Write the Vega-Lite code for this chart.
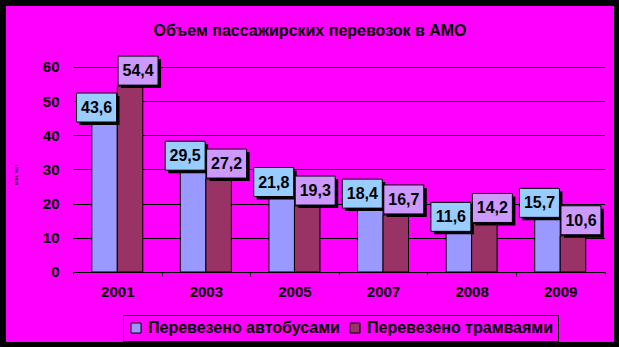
{
  "$schema": "https://vega.github.io/schema/vega-lite/v6.json",
  "width": 608,
  "height": 336,
  "autosize": {"type": "none"},
  "padding": {"left": 6, "top": 6, "right": 5, "bottom": 5},
  "background": "#000000",
  "config": {
    "locale": {"number": {"decimal": ",", "thousands": " ", "grouping": [3], "currency": ["", ""]}},
    "view": {"fill": "#FF00FF", "stroke": null},
    "font": "Liberation Sans"
  },
  "title": {
    "text": "Объем пассажирских перевозок в АМО",
    "fontSize": 16,
    "fontWeight": "bold",
    "color": "#000000",
    "anchor": "middle",
    "frame": "group",
    "offset": -46,
    "baseline": "alphabetic"
  },
  "data": {
    "values": [
      {"year": "2001", "series": "Перевезено автобусами", "value": 43.6},
      {"year": "2001", "series": "Перевезено трамваями", "value": 54.4},
      {"year": "2003", "series": "Перевезено автобусами", "value": 29.5},
      {"year": "2003", "series": "Перевезено трамваями", "value": 27.2},
      {"year": "2005", "series": "Перевезено автобусами", "value": 21.8},
      {"year": "2005", "series": "Перевезено трамваями", "value": 19.3},
      {"year": "2007", "series": "Перевезено автобусами", "value": 18.4},
      {"year": "2007", "series": "Перевезено трамваями", "value": 16.7},
      {"year": "2008", "series": "Перевезено автобусами", "value": 11.6},
      {"year": "2008", "series": "Перевезено трамваями", "value": 14.2},
      {"year": "2009", "series": "Перевезено автобусами", "value": 15.7},
      {"year": "2009", "series": "Перевезено трамваями", "value": 10.6}
    ]
  },
  "encoding": {
    "x": {
      "field": "year",
      "type": "nominal",
      "scale": {"range": [67, 598.5], "paddingInner": 0, "paddingOuter": 0},
      "axis": {
        "title": null,
        "orient": "bottom",
        "offset": -70,
        "domain": true,
        "domainColor": "#000000",
        "ticks": true,
        "tickBand": "extent",
        "tickSize": 4,
        "tickColor": "#000000",
        "labelPadding": 8,
        "labelFontSize": 15,
        "labelFontWeight": "bold",
        "labelColor": "#000000",
        "labelAngle": 0,
        "grid": false
      }
    },
    "xOffset": {
      "field": "series",
      "type": "nominal",
      "sort": ["Перевезено автобусами", "Перевезено трамваями"],
      "scale": {"paddingInner": 0, "paddingOuter": 0.737}
    },
    "y": {
      "field": "value",
      "type": "quantitative",
      "scale": {"domain": [-20.49, 77.85], "nice": false, "zero": false},
      "axis": {
        "title": "млн. чел.",
        "titleFontSize": 5,
        "titleFontWeight": "normal",
        "titleColor": "#000000",
        "titlePadding": 24,
        "offset": -67,
        "values": [0, 10, 20, 30, 40, 50, 60],
        "domain": false,
        "ticks": false,
        "grid": true,
        "gridColor": "#000000",
        "gridOpacity": 1,
        "gridWidth": 1,
        "labelPadding": 14,
        "labelFontSize": 15,
        "labelFontWeight": "bold",
        "labelColor": "#000000"
      }
    }
  },
  "layer": [
    {
      "mark": {"type": "bar", "stroke": "#000000", "strokeWidth": 1},
      "encoding": {
        "y2": {"datum": 0},
        "color": {
          "field": "series",
          "type": "nominal",
          "sort": ["Перевезено автобусами", "Перевезено трамваями"],
          "scale": {"domain": ["Перевезено автобусами", "Перевезено трамваями"], "range": ["#9999FF", "#993366"]},
          "legend": {
            "title": null,
            "orient": "none",
            "legendX": 117,
            "legendY": 309,
            "direction": "horizontal",
            "strokeColor": "#000000",
            "padding": 5,
            "symbolType": "square",
            "symbolSize": 100,
            "symbolStrokeColor": "#000000",
            "symbolStrokeWidth": 1,
            "labelFontSize": 16,
            "labelFontWeight": "bold",
            "labelColor": "#000000",
            "labelOffset": 4,
            "columnPadding": 7,
            "labelLimit": 300
          }
        }
      }
    },
    {
      "transform": [{"filter": "datum.series === 'Перевезено автобусами'"}],
      "mark": {"type": "point", "shape": "M-1.25,-1.35H0.75V0.1H-1.25Z", "size": 1600, "filled": true, "fill": "#000000", "strokeWidth": 0, "opacity": 1}
    },
    {
      "transform": [{"filter": "datum.series === 'Перевезено автобусами'"}],
      "mark": {"type": "point", "shape": "M-1.4,-1.5H0.6V-0.05H-1.4Z", "size": 1600, "filled": true, "fill": "#99CCFF", "stroke": "#000000", "strokeWidth": 1, "opacity": 1}
    },
    {
      "transform": [{"filter": "datum.series === 'Перевезено автобусами'"}],
      "mark": {"type": "text", "dx": -8, "dy": -15, "fontSize": 16, "fontWeight": "bold", "baseline": "middle", "align": "center", "color": "#000000"},
      "encoding": {"text": {"field": "value", "type": "quantitative", "format": ".1f"}}
    },
    {
      "transform": [{"filter": "datum.series === 'Перевезено трамваями'"}],
      "mark": {"type": "point", "shape": "M-0.45,-1.35H1.55V0.1H-0.45Z", "size": 1600, "filled": true, "fill": "#000000", "strokeWidth": 0, "opacity": 1}
    },
    {
      "transform": [{"filter": "datum.series === 'Перевезено трамваями'"}],
      "mark": {"type": "point", "shape": "M-0.6,-1.5H1.4V-0.05H-0.6Z", "size": 1600, "filled": true, "fill": "#CC99FF", "stroke": "#000000", "strokeWidth": 1, "opacity": 1}
    },
    {
      "transform": [{"filter": "datum.series === 'Перевезено трамваями'"}],
      "mark": {"type": "text", "dx": 8, "dy": -15, "fontSize": 16, "fontWeight": "bold", "baseline": "middle", "align": "center", "color": "#000000"},
      "encoding": {"text": {"field": "value", "type": "quantitative", "format": ".1f"}}
    }
  ]
}
